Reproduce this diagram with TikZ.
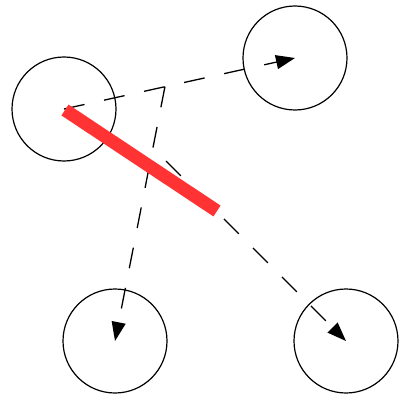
\documentclass[tikz,border=0pt]{standalone}
\usetikzlibrary{arrows.meta,calc}
\definecolor{cutred}{RGB}{255,51,51}
\begin{document}
\begin{tikzpicture}[x=1pt,y=-1pt,
  vertex/.style={draw=black,line width=1.2pt,circle,minimum size=104pt,inner sep=0pt},
  edge/.style={line width=1.3pt,dash pattern=on 21pt off 20pt,-{Triangle[length=19pt,width=14pt]}},
  cutline/.style={draw=cutred,line width=13pt,line cap=butt}]
\useasboundingbox (0,0) rectangle (399,396);
\node[vertex] (tl) at (64,109) {};
\node[vertex] (tr) at (295,58) {};
\node[vertex] (bl) at (115,341) {};
\node[vertex] (br) at (346,341) {};
\coordinate (p) at ($(tl.center)!0.437!(tr.center)$);
\coordinate (s) at (166,161);
\coordinate (r1) at (65,110);
\coordinate (r2) at (217,211);
\draw[edge] (tl.center) -- (tr.center);
\draw[edge] (p) -- (bl.center);
\draw[edge] (s) -- (br.center);
\draw[cutline] (r1) -- (r2);
\end{tikzpicture}
\end{document}
